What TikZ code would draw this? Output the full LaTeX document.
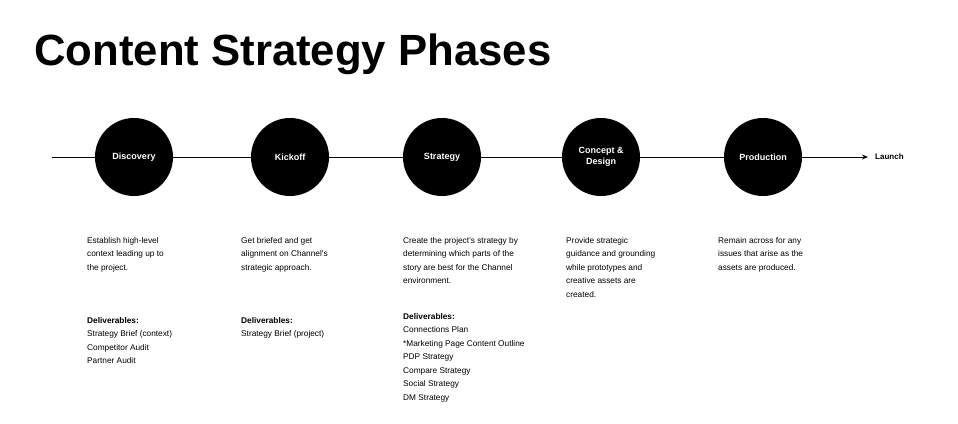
\documentclass[tikz,border=0pt]{standalone}
\usepackage{fontspec}
\setmainfont{Liberation Sans}
\usetikzlibrary{arrows.meta}
\begin{document}
\begin{tikzpicture}[x=1pt,y=1pt,
  phase/.style={circle,fill=black,minimum size=78pt,inner sep=0pt,text=white,font=\fontsize{9}{11}\selectfont\bfseries,align=center},
  desc/.style={anchor=north west,inner sep=0pt,align=left,font=\fontsize{8.3}{13.5}\selectfont},
]
\useasboundingbox (0,0) rectangle (958,-423);
\node[anchor=base west,inner sep=0pt,font=\fontsize{43.7}{44}\selectfont\bfseries] (title) at (34,-65) {Content Strategy Phases};
\coordinate (start) at (52,-157);
\coordinate (end) at (868,-157);
\node[anchor=west,inner sep=0pt,font=\fontsize{8}{10}\selectfont\bfseries] (launch) at (875,-157) {Launch};
\draw[line width=0.8pt,-{Stealth[length=6pt,width=5pt]}] (start) -- (end);
\node[phase] (p1) at (134,-157) {Discovery};
\node[phase] (p2) at (290,-157) {Kickoff};
\node[phase] (p3) at (442,-157) {Strategy};
\node[phase] (p4) at (601,-157) {Concept \&\\Design};
\node[phase] (p5) at (763,-157) {Production};
\node[desc] (d1) at (87,-237) {Establish high-level\\context leading up to\\the project.};
\node[desc] (d2) at (241,-237) {Get briefed and get\\alignment on Channel's\\strategic approach.};
\node[desc] (d3) at (403,-237) {Create the project's strategy by\\determining which parts of the\\story are best for the Channel\\environment.};
\node[desc] (d4) at (566,-237) {Provide strategic\\guidance and grounding\\while prototypes and\\creative assets are\\created.};
\node[desc] (d5) at (718,-237) {Remain across for any\\issues that arise as the\\assets are produced.};
\node[desc] (e1) at (87,-317) {\textbf{Deliverables:}\\Strategy Brief (context)\\Competitor Audit\\Partner Audit};
\node[desc] (e2) at (241,-317) {\textbf{Deliverables:}\\Strategy Brief (project)};
\node[desc] (e3) at (403,-313) {\textbf{Deliverables:}\\Connections Plan\\*Marketing Page Content Outline\\PDP Strategy\\Compare Strategy\\Social Strategy\\DM Strategy};
\end{tikzpicture}
\end{document}
